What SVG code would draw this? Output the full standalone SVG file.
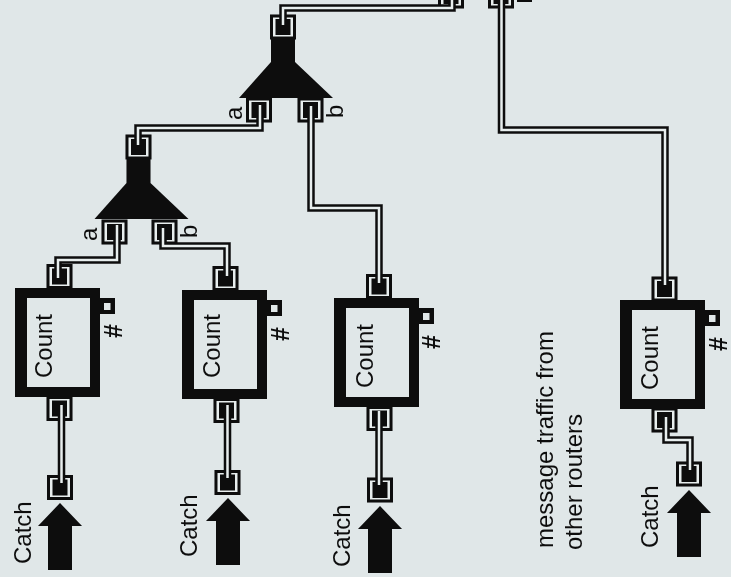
<svg xmlns="http://www.w3.org/2000/svg" xmlns:xlink="http://www.w3.org/1999/xlink" width="731" height="577" viewBox="0 0 731 577">
<style>
text{font-family:"Liberation Sans",Arial,sans-serif;fill:#111;font-size:24px}
.h{font-size:25px;font-weight:bold}
.o{fill:none;stroke:#0c0c0c;stroke-width:7.5;stroke-linejoin:miter}
.i{fill:none;stroke:#e8eeee;stroke-width:2.5}
.b{fill:#0c0c0c}
.port{fill:#e8eeee;stroke:#0c0c0c;stroke-width:3}
.w{fill:#e0e7e8}
</style>
<defs>
<filter id="soft" x="0" y="0" width="100%" height="100%"><feGaussianBlur stdDeviation="0.5"/></filter>
<g id="p"><rect class="port" x="-11.5" y="-11" width="23" height="22"/><rect class="b" x="-7.5" y="-8" width="15" height="16"/></g>
<g id="cnt"><rect class="b" x="0" y="0" width="85" height="109"/><rect class="w" x="12" y="10" width="63" height="89"/><rect class="b" x="85" y="10" width="15" height="16"/><rect class="w" x="89" y="15" width="6.500" height="7"/></g>
<path id="arr" class="b" d="M0 0L22 23H12V67H-12V23H-22Z"/>
<path id="tri" class="b" d="M-12 0H12V47L50 83H-44L-12 47Z"/>
</defs>
<rect width="731" height="577" fill="#e0e7e8"/>
<g filter="url(#soft)">
<g id="top-ports"><use xlink:href="#p" x="451" y="-4"/><use xlink:href="#p" x="501" y="-4"/><rect class="b" x="517" y="0" width="15" height="2"/></g>
<g id="merge-top"><use xlink:href="#tri" x="283" y="15"/><use xlink:href="#p" x="283" y="27"/><use xlink:href="#p" x="259" y="110"/><use xlink:href="#p" x="310.500" y="110"/><text transform="translate(242 120) rotate(-90)">a</text><text transform="translate(343 118) rotate(-90)">b</text></g>
<g id="merge-bottom"><use xlink:href="#tri" x="138.500" y="136"/><use xlink:href="#p" x="138.500" y="147"/><use xlink:href="#p" x="114.500" y="232"/><use xlink:href="#p" x="164.500" y="232"/><text transform="translate(97 241) rotate(-90)">a</text><text transform="translate(197 238) rotate(-90)">b</text></g>
<g id="count1"><use xlink:href="#cnt" x="15" y="288"/><use xlink:href="#p" x="59.500" y="276.500"/><use xlink:href="#p" x="59.500" y="408.500"/><use xlink:href="#p" x="60" y="487.500"/><use xlink:href="#arr" x="60" y="503"/><text transform="translate(52 378) rotate(-90)">Count</text><text class="h" transform="translate(122 338) rotate(-90)">#</text><text transform="translate(31 564) rotate(-90)">Catch</text></g>
<g id="count2"><use xlink:href="#cnt" x="182" y="290"/><use xlink:href="#p" x="225.500" y="278.500"/><use xlink:href="#p" x="226.500" y="410.500"/><use xlink:href="#p" x="227.500" y="482.500"/><use xlink:href="#arr" x="228" y="498"/><text transform="translate(220 378) rotate(-90)">Count</text><text class="h" transform="translate(289 341) rotate(-90)">#</text><text transform="translate(197 557) rotate(-90)">Catch</text></g>
<g id="count3"><use xlink:href="#cnt" x="334" y="298"/><use xlink:href="#p" x="379" y="286.500"/><use xlink:href="#p" x="379.500" y="418.500"/><use xlink:href="#p" x="380" y="490"/><use xlink:href="#arr" x="380" y="506"/><text transform="translate(373 388) rotate(-90)">Count</text><text class="h" transform="translate(440 349) rotate(-90)">#</text><text transform="translate(350 567) rotate(-90)">Catch</text></g>
<g id="count4"><use xlink:href="#cnt" x="620" y="300"/><use xlink:href="#p" x="664.500" y="289"/><use xlink:href="#p" x="664.500" y="420"/><use xlink:href="#p" x="689" y="474"/><use xlink:href="#arr" x="689" y="490"/><text transform="translate(658 390) rotate(-90)">Count</text><text class="h" transform="translate(727 351) rotate(-90)">#</text><text transform="translate(658 548) rotate(-90)">Catch</text></g>
<g id="note"><text transform="translate(553 548) rotate(-90)">message traffic from</text><text transform="translate(582 550) rotate(-90)">other routers</text></g>
<g id="connectors">
<path class="o" d="M283 25V8H452V0"/><path class="i" d="M283 25V8H452V0"/>
<path class="o" d="M501.500 0V130H665V285"/><path class="i" d="M501.500 0V130H665V285"/>
<path class="o" d="M260 105V128H138V145"/><path class="i" d="M260 105V128H138V145"/>
<path class="o" d="M311 106V208H379V283"/><path class="i" d="M311 106V208H379V283"/>
<path class="o" d="M117 225V260H58V278"/><path class="i" d="M117 225V260H58V278"/>
<path class="o" d="M163 228V246H227V276"/><path class="i" d="M163 228V246H227V276"/>
<path class="o" d="M61.500 405V483"/><path class="i" d="M61.500 405V483"/>
<path class="o" d="M227.500 405V478"/><path class="i" d="M227.500 405V478"/>
<path class="o" d="M379 411V485"/><path class="i" d="M379 411V485"/>
<path class="o" d="M666 417V440H690V470"/><path class="i" d="M666 417V440H690V470"/>
</g>
</g>
</svg>
